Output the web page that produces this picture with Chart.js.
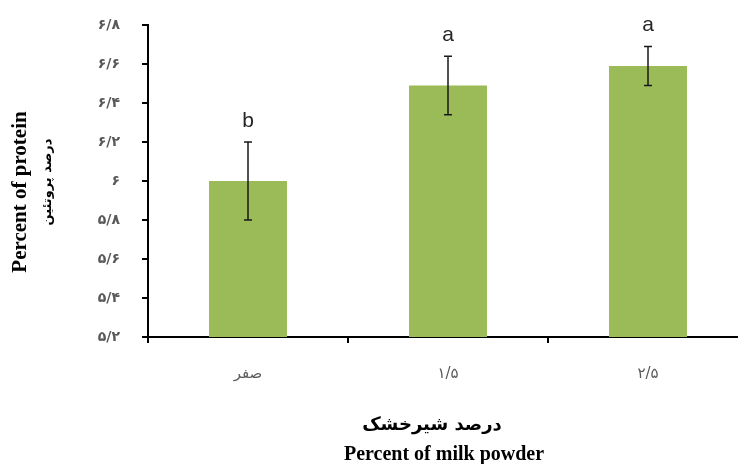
<!DOCTYPE html>
<html>
<head>
<meta charset="utf-8">
<script src="https://cdn.jsdelivr.net/npm/chart.js@4"></script>
<style>
html,body{margin:0;padding:0;background:#fff;overflow:hidden;width:738px;height:464px;}
canvas{display:block;}
</style>
</head>
<body>
<canvas id="c" width="760" height="464"></canvas>
<script>
const categories = ['صفر', '۱/۵', '۲/۵'];
const proteinValues = [6.0, 6.49, 6.59];
const errorValues = [0.2, 0.15, 0.1];
const groupLetters = ['b', 'a', 'a'];
const yTickLabels = ['۵/۲', '۵/۴', '۵/۶', '۵/۸', '۶', '۶/۲', '۶/۴', '۶/۶', '۶/۸'];
const yTitleEn = 'Percent of protein';
const yTitleFa = 'درصد پروتئین';
const xTitleFa = 'درصد شیرخشک';
const xTitleEn = 'Percent of milk powder';

const overlay = {
  id: 'overlay',
  afterDatasetsDraw(chart) {
    const ctx = chart.ctx;
    const xs = chart.scales.x, ys = chart.scales.y;
    ctx.save();
    ctx.strokeStyle = '#1a1a1a';
    ctx.lineWidth = 1.5;
    proteinValues.forEach((v, i) => {
      const x = xs.getPixelForValue(i);
      const yt = ys.getPixelForValue(v + errorValues[i]);
      const yb = ys.getPixelForValue(v - errorValues[i]);
      ctx.beginPath();
      ctx.moveTo(x, yt); ctx.lineTo(x, yb);
      ctx.moveTo(x - 4, yt); ctx.lineTo(x + 4, yt);
      ctx.moveTo(x - 4, yb); ctx.lineTo(x + 4, yb);
      ctx.stroke();
      ctx.fillStyle = '#262626';
      ctx.font = '21px "Liberation Sans", Arial, sans-serif';
      ctx.textAlign = 'center';
      ctx.textBaseline = 'middle';
      ctx.fillText(groupLetters[i], x, yt - 21);
    });
    ctx.fillStyle = '#000';
    ctx.textAlign = 'center';
    ctx.textBaseline = 'middle';
    ctx.save();
    ctx.translate(21, 192);
    ctx.rotate(-Math.PI / 2);
    ctx.font = 'bold 21px "Liberation Serif", "Times New Roman", serif';
    ctx.fillText(yTitleEn, 0, 0);
    ctx.restore();
    ctx.save();
    ctx.translate(48, 182);
    ctx.rotate(-Math.PI / 2);
    ctx.font = 'bold 13px "DejaVu Sans", sans-serif';
    ctx.fillText(yTitleFa, 0, 0);
    ctx.restore();
    ctx.font = 'bold 18px "DejaVu Sans", sans-serif';
    ctx.fillText(xTitleFa, 432, 425);
    ctx.font = 'bold 20px "Liberation Serif", "Times New Roman", serif';
    ctx.fillText(xTitleEn, 444, 455);
    ctx.restore();
  }
};

new Chart(document.getElementById('c'), {
  type: 'bar',
  data: {
    labels: categories,
    datasets: [{
      data: proteinValues,
      backgroundColor: '#9BBB59',
      borderWidth: 0,
      categoryPercentage: 1,
      barPercentage: 0.39
    }]
  },
  options: {
    responsive: false,
    animation: false,
    layout: { padding: { top: 25, right: 12, left: 0, bottom: 0 } },
    plugins: { legend: { display: false }, tooltip: { enabled: false } },
    scales: {
      x: {
        offset: true,
        grid: { offset: true, drawOnChartArea: false, drawTicks: true, tickLength: 6, color: '#000', lineWidth: 2 },
        border: { display: true, color: '#000', width: 2 },
        ticks: { color: '#595959', font: { size: 15, family: '"DejaVu Sans", sans-serif' }, padding: 22 },
        afterFit(s) { s.height = 127; s.paddingLeft = 0; s.paddingRight = 0; }
      },
      y: {
        min: 5.2,
        max: 6.8,
        grid: { drawOnChartArea: false, drawTicks: true, tickLength: 6, color: '#000', lineWidth: 2 },
        border: { display: true, color: '#000', width: 2 },
        ticks: {
          stepSize: 0.2,
          color: '#595959',
          font: { size: 14, weight: 'bold', family: '"DejaVu Sans", sans-serif' },
          padding: 22,
          callback: (v, i) => yTickLabels[i]
        },
        afterFit(s) { s.width = 148; s.paddingTop = 0; s.paddingBottom = 0; }
      }
    }
  },
  plugins: [overlay]
});
</script>
</body>
</html>
